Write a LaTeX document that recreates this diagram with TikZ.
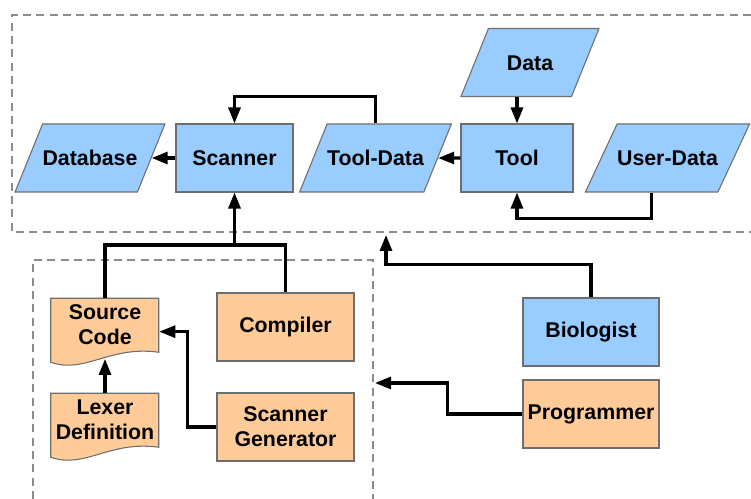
\documentclass[tikz,border=0pt]{standalone}
\usepackage{fontspec}
\setmainfont{Liberation Sans}
\usetikzlibrary{shapes.geometric, arrows.meta, backgrounds}

\definecolor{bluebox}{HTML}{99CCFF}
\definecolor{orangebox}{HTML}{FFCC99}
\definecolor{edge}{HTML}{6E6E6E}
\definecolor{frame}{HTML}{8C8C8C}

\begin{document}
\begin{tikzpicture}[x=0.75pt, y=-0.75pt,
        font=\bfseries\fontsize{16}{18.75}\selectfont,
        box/.style={draw=edge, line width=0.8pt},
        proc/.style={box, rectangle, minimum height=51pt, inner sep=0pt, align=center},
        para/.style={box, trapezium, trapezium left angle=68, trapezium right angle=112,
            trapezium stretches body, text height=11.5pt, text depth=0pt,
            inner xsep=0pt, inner ysep=19.75pt},
        doc/.style={rectangle, minimum width=81pt, minimum height=40.5pt, inner sep=0pt, align=center},
        link/.style={line width=2.3pt},
        arr/.style={link, -{Triangle[length=12pt, width=9pt]}},
        dashframe/.style={draw=frame, line width=0.9pt, dash pattern=on 6pt off 4pt}]
    \useasboundingbox (0,0) rectangle (751,499);

    % frames
    \draw[dashframe] (751,15) -- (12,15) -- (12,232) -- (751,232);
    \draw[dashframe] (33,499) -- (33,260) -- (373,260) -- (373,499);

    % upper part
    \node[para, fill=bluebox, minimum width=111pt] (database) at (90, 158) {Database};
    \node[proc, fill=bluebox, minimum width=87.75pt] (scanner) at (234.5, 158) {Scanner};
    \node[para, fill=bluebox, minimum width=111.75pt] (tooldata) at (375.5, 158) {Tool-Data};
    \node[proc, fill=bluebox, minimum width=84pt] (tool) at (517, 158) {Tool};
    \node[para, fill=bluebox, minimum width=122.25pt, trapezium left angle=65,
        trapezium right angle=115] (userdata) at (667.5, 158) {User-Data};
    \node[para, fill=bluebox, minimum width=103.5pt] (data) at (530, 62.5) {Data};

    % lower part
    \node[doc] (src) at (105, 325) {Source\\Code};
    \node[doc] (lex) at (105, 420) {Lexer\\Definition};
    \node[proc, fill=orangebox, minimum width=102.75pt] (compiler) at (285.5, 327) {Compiler};
    \node[proc, fill=orangebox, minimum width=102.75pt] (scangen) at (285.5, 427) {Scanner\\Generator};
    \node[proc, fill=bluebox, minimum width=102pt] (bio) at (591, 332) {Biologist};
    \node[proc, fill=orangebox, minimum width=102pt] (prog) at (591, 414) {Programmer};

    \begin{scope}[on background layer]
        \draw[box, fill=orangebox, shift={(src.south west)}]
            (0,10) .. controls (34,22) and (59,-7) .. (108,0) -- (108,-54) -- (0,-54) -- cycle;
        \draw[box, fill=orangebox, shift={(lex.south west)}]
            (0,10) .. controls (34,22) and (59,-7) .. (108,0) -- (108,-54) -- (0,-54) -- cycle;
    \end{scope}

    \coordinate (merge) at (234.5, 245);
    \coordinate (topin) at (386, 235);
    \coordinate (lowin) at (375, 383);

    \draw[arr] (scanner) -- (database);
    \draw[arr] (tool) -- (tooldata);
    \draw[arr] (tool |- data.south) -- (tool);
    \draw[arr] (tooldata.north) -- ++(0,-27) -| (scanner);
    \draw[arr] (userdata.bottom side) -- ++(0,26) -| (tool);

    \draw[link] (src.north) |- (merge) -| (compiler.north);
    \draw[arr] (merge) -- (scanner);
    \draw[arr] (lex.north) -- ([yshift=-5pt]src.south);
    \draw[arr] (scangen.west) -- ++(-29,0) |- ([yshift=-5pt]src.east);
    \draw[arr] (bio.north) -- ++(0,-33) -| (topin);
    \draw[arr] (prog.west) -- ++(-75,0) |- (lowin);
\end{tikzpicture}
\end{document}
